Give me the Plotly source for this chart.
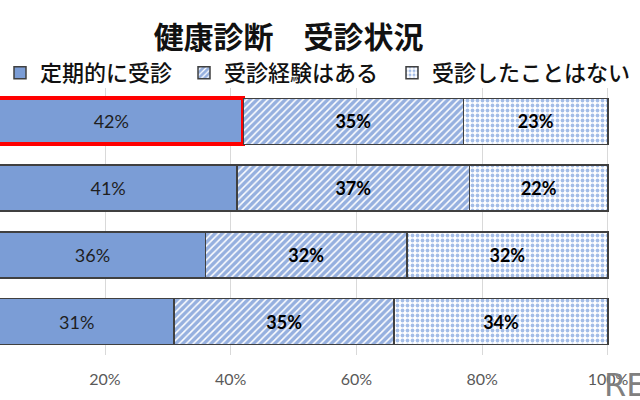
import plotly.graph_objects as go

# data listed top row first
categories = ["区分1", "区分2", "区分3", "区分4"]
series_names = ["定期的に受診", "受診経験はある", "受診したことはない"]
regular = [42, 41, 36, 31]
experienced = [35, 37, 32, 35]
never = [23, 22, 32, 34]
highlight = [True, False, False, False]
tick_vals = [20, 40, 60, 80, 100]
tick_text = ["20%", "40%", "60%", "80%", "100%"]

FONT = "Lato, 'Noto Sans CJK JP', sans-serif"
JP = "'Noto Sans CJK JP', sans-serif"
BORDER = "#404040"

def rev(a):
    return list(a)[::-1]

cats = rev(categories)  # bottom row first, so top row is drawn at top

fig = go.Figure()

fig.add_trace(go.Bar(
    y=cats, x=rev(regular), name=series_names[0], orientation="h",
    marker=dict(color="#7b9dd6",
                line=dict(color=["#ff0000" if h else BORDER for h in rev(highlight)],
                          width=[4 if h else 1.5 for h in rev(highlight)])),
    text=[f"{v}%" for v in rev(regular)], textposition="inside",
    insidetextanchor="middle", textangle=0,
    insidetextfont=dict(family=FONT, size=18, color="#1f1f1f"),
    legend="legend", showlegend=True, width=0.69,
))
fig.add_trace(go.Bar(
    y=cats, x=rev(experienced), name=series_names[1], orientation="h",
    marker=dict(color="white", line=dict(color=BORDER, width=1.5),
                pattern=dict(shape="/", fgcolor="#2e62c0", bgcolor="white",
                             size=5, solidity=0.7)),
    text=[f"<b>{v}%</b>" for v in rev(experienced)], textposition="inside",
    insidetextanchor="middle", textangle=0,
    insidetextfont=dict(family=FONT, size=18, color="#000000"),
    legend="legend2", showlegend=True, width=0.69,
))
fig.add_trace(go.Bar(
    y=cats, x=rev(never), name=series_names[2], orientation="h",
    marker=dict(color="white", line=dict(color=BORDER, width=1.5),
                pattern=dict(shape=".", fgcolor="#4a7bd0", bgcolor="white",
                             size=5, solidity=0.45)),
    text=[f"<b>{v}%</b>" for v in rev(never)], textposition="inside",
    insidetextanchor="middle", textangle=0,
    insidetextfont=dict(family=FONT, size=18, color="#000000"),
    legend="legend3", showlegend=True, width=0.69,
))

legend_common = dict(orientation="h", xref="container", yref="container",
                     xanchor="left", y=0.8175, yanchor="middle",
                     font=dict(family=JP, size=22, color="#111111", weight=500),
                     bgcolor="rgba(0,0,0,0)", visible=True)

fig.update_layout(
    width=640, height=400,
    barmode="stack",
    showlegend=True,
    paper_bgcolor="white", plot_bgcolor="white",
    margin=dict(l=0, r=30, t=88, b=45, autoexpand=False),
    font=dict(family=FONT, color="#595959"),
    title=dict(text="<b>健康診断　受診状況</b>", xref="container", yref="container",
               x=0.451, xanchor="center", y=0.906, yanchor="middle",
               font=dict(family=JP, size=30, color="#111111")),
    legend=dict(x=0.0, **legend_common),
    legend2=dict(x=0.2875, **legend_common),
    legend3=dict(x=0.6125, **legend_common),
    xaxis=dict(range=[3.30, 100.32], tickvals=tick_vals, ticktext=tick_text,
               showgrid=True, gridcolor="#d9d9d9", gridwidth=1,
               zeroline=False, showline=False, ticks="",
               ticklabelstandoff=13,
               tickfont=dict(family=FONT, size=16, color="#595959")),
    yaxis=dict(range=[-0.5, 3.5], showticklabels=False, showgrid=False,
               zeroline=False, showline=False),
    annotations=[dict(text="RE", xref="paper", yref="paper", x=0.987, y=-0.112,
                      xanchor="left", yanchor="middle", showarrow=False,
                      font=dict(family="DejaVu Sans ExtraLight, DejaVu Sans, sans-serif",
                                size=32, color="#808080"))],
)

fig.write_html("out.html", config={"displayModeBar": False},
               post_script="document.body.style.margin='0';")
